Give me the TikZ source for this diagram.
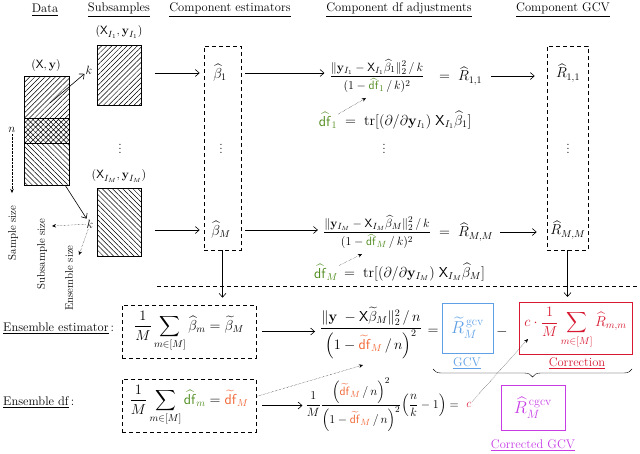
\documentclass[tikz,border=0pt]{standalone}
\usepackage{amsmath,amssymb}
\usetikzlibrary{arrows.meta,patterns.meta,decorations.pathreplacing,calc}
\definecolor{dfgreen}{RGB}{80,140,30}
\definecolor{dforange}{RGB}{240,100,50}
\definecolor{gcvblue}{RGB}{95,160,230}
\definecolor{corrred}{RGB}{215,25,50}
\definecolor{cgcvmag}{RGB}{200,60,230}
\newcommand{\Xs}{\mathsf{X}}
\newcommand{\yb}{\mathbf{y}}
\newcommand{\dfh}{\widehat{\mathsf{df}}}
\newcommand{\dft}{\widetilde{\mathsf{df}}}
\newcommand{\bh}{\widehat{\beta}}
\newcommand{\Rh}{\widehat{R}}
\tikzset{
  lbl/.style={inner sep=1pt},
  arr/.style={semithick,-{Straight Barb[length=4pt,width=7pt]}},
  darr/.style={densely dotted,thin,-{Stealth[length=4pt,width=3.5pt]}},
  dbox/.style={draw,dash pattern=on 4pt off 3pt,semithick,inner sep=2pt},
  hatchA/.style={pattern={Lines[angle=45,distance=3.6pt,line width=0.5pt]}},
  hatchB/.style={pattern={Lines[angle=-45,distance=3.6pt,line width=0.5pt]}},
  hatchC/.style={pattern={Hatch[angle=45,distance=3.6pt,line width=0.5pt]}},
  cbox/.style={draw=#1,line width=0.9pt,inner sep=2pt,font=\fontsize{17.28}{20}\selectfont},
  bigm/.style={inner sep=1pt,font=\fontsize{14.4}{17}\selectfont},
  rotlbl/.style={rotate=90,inner sep=1pt,font=\fontsize{11}{13}\selectfont},
}
\begin{document}
\begin{tikzpicture}[x=1pt,y=-1pt,font=\fontsize{12.5}{15}\selectfont]
\useasboundingbox (0,0) rectangle (640,453);
% headers
\node[lbl] (hData) at (45,10) {\underline{Data}};
\node[lbl] (hSub) at (119,10) {\underline{Subsamples}};
\node[lbl] (hEst) at (230,10) {\underline{Component estimators}};
\node[lbl] (hDf) at (399,10) {\underline{Component df adjustments}};
\node[lbl] (hGcv) at (563,10) {\underline{Component GCV}};
% data block
\node[draw,hatchA,minimum width=45,minimum height=42,inner sep=0pt,anchor=north west] (dA) at (24,76) {};
\node[draw,hatchC,minimum width=45,minimum height=25,inner sep=0pt,anchor=north west] (dB) at (24,118) {};
\node[draw,hatchB,minimum width=45,minimum height=42,inner sep=0pt,anchor=north west] (dC) at (24,143) {};
\node[draw,line width=1.3pt,minimum width=45,minimum height=109,inner sep=0pt,anchor=north west] (data) at (24,76) {};
\node[lbl] (dlab) at (46,65) {$(\Xs,\yb)$};
% subsamples
\node[draw,hatchA,minimum width=44,minimum height=60,inner sep=0pt] (s1) at (119,75) {};
\node[draw,hatchB,minimum width=44,minimum height=68,inner sep=0pt] (sM) at (119,222) {};
\node[lbl] (s1lab) at (119,32) {$(\Xs_{I_1},\yb_{I_1})$};
\node[lbl] (sMlab) at (119,176) {$(\Xs_{I_M},\yb_{I_M})$};
\node[lbl] (sdots) at (120,146) {$\vdots$};
% k, n and size arrows
\node[lbl] (k1) at (89,70) {$k$};
\node[lbl] (kM) at (90,224) {$k$};
\node[lbl] (nn) at (12,130) {$n$};
\coordinate (d1) at (50,103);
\coordinate (d2) at (65,185);
\draw[arr] (d1) -- (k1);
\draw[arr] (d2) -- (kM);
\coordinate (nend) at (12,193);
\coordinate (ssend) at (52,226);
\coordinate (esend) at (79,255);
\draw[darr] (nn) -- (nend);
\draw[darr] (kM) -- (ssend);
\draw[darr] (kM) -- (esend);
\node[rotlbl] (sz1) at (13,233) {Sample size};
\node[rotlbl] (sz2) at (42,254) {Subsample size};
\node[rotlbl] (sz3) at (69,278) {Ensemble size};
% estimators
\node[dbox,minimum width=37,minimum height=204] (est) at (222.5,148) {};
\node[bigm] (b1) at (220,73) {$\bh_1$};
\node[lbl] (bdots) at (221,146) {$\vdots$};
\node[bigm] (bM) at (221,230) {$\bh_M$};
\draw[arr,shorten <=14pt,shorten >=4pt] (s1.east|-b1) -- (est.west|-b1);
\draw[arr,shorten <=14pt,shorten >=4pt] (sM.east|-bM) -- (est.west|-bM);
% component df adjustments
\node[lbl] (f1) at (377,76) {$\dfrac{\|\yb_{I_1}-\Xs_{I_1}\bh_1\|_2^2\,/\,k}{(1-\textcolor{dfgreen}{\dfh_1}\,/\,k)^2}$};
\node[bigm,anchor=west] (e1) at (438,76) {$=\;\Rh_{1,1}$};
\node[bigm] (g1) at (328,120) {$\textcolor{dfgreen}{\dfh_1}$};
\node[bigm,anchor=west] (t1) at (344,120) {$=\;\mathrm{tr}[(\partial/\partial\yb_{I_1})\;\Xs_{I_1}\bh_1]$};
\coordinate (g1t) at (366,98);
\draw[darr] (g1) -- (g1t);
\node[lbl] (fdots) at (384,146) {$\vdots$};
\node[lbl] (fM) at (377,232) {$\dfrac{\|\yb_{I_M}-\Xs_{I_M}\bh_M\|_2^2\,/\,k}{(1-\textcolor{dfgreen}{\dfh_M}\,/\,k)^2}$};
\node[bigm,anchor=west] (eM) at (438,232) {$=\;\Rh_{M,M}$};
\node[bigm] (gM) at (326,272) {$\textcolor{dfgreen}{\dfh_M}$};
\node[bigm,anchor=west] (tM) at (343,272) {$=\;\mathrm{tr}[(\partial/\partial\yb_{I_M})\;\Xs_{I_M}\bh_M]$};
\coordinate (gMt) at (362,254);
\draw[darr] (gM) -- (gMt);
\draw[arr,shorten <=4pt,shorten >=4pt] (b1.east-|est.east) -- (f1.west|-b1.east);
\draw[arr,shorten <=4pt,shorten >=4pt] (bM.east-|est.east) -- (fM.west|-bM.east);
% component GCV
\node[dbox,minimum width=41,minimum height=204] (gcv) at (567.5,148) {};
\node[bigm] (r1) at (568,73) {$\Rh_{1,1}$};
\node[lbl] (rdots) at (568,146) {$\vdots$};
\node[bigm] (rM) at (568,230) {$\Rh_{M,M}$};
\draw[arr,shorten <=8pt,shorten >=12pt] (e1.east) -- (gcv.west|-e1.east);
\draw[arr,shorten <=6pt,shorten >=10pt] (eM.east) -- (gcv.west|-eM.east);
% separator
\coordinate (hl1) at (157,286);
\coordinate (hl2) at (640,286);
\draw[dash pattern=on 4pt off 3pt,semithick] (hl1) -- (hl2);
% ensemble rows
\node[dbox,minimum width=134,minimum height=53,font=\fontsize{14.4}{17}\selectfont] (ee) at (189,331.5) {$\displaystyle\frac{1}{M}\sum_{m\in[M]}\bh_m=\widetilde{\beta}_M$};
\node[dbox,minimum width=134,minimum height=53,font=\fontsize{14.4}{17}\selectfont] (edf) at (189,405.5) {$\displaystyle\frac{1}{M}\sum_{m\in[M]}\textcolor{dfgreen}{\dfh_m}=\textcolor{dforange}{\dft_M}$};
\node[lbl,anchor=west] (eel) at (2,328) {\underline{Ensemble estimator}\,:};
\node[lbl,anchor=west] (edfl) at (2,402) {\underline{Ensemble df}\,:};
\draw[arr,shorten >=7pt] (est.south) -- (est.south|-ee.north);
\draw[arr,shorten >=5pt] (gcv.south) -- (gcv.south|-300,302);
% GCV equation
\node[bigm] (gf) at (371,333) {$\dfrac{\|\yb\;-\Xs\widetilde{\beta}_M\|_2^2\,/\,n}{\Bigl(1-\textcolor{dforange}{\dft_M}\,/\,n\Bigr)^2}$};
\node[bigm] (geq) at (433,332) {$=$};
\node[cbox=gcvblue,minimum width=51,minimum height=50] (gb) at (467.5,328) {$\textcolor{gcvblue}{\widetilde{R}_M^{\,\mathrm{gcv}}}$};
\node[bigm] (gmin) at (502,332) {$-$};
\node[cbox=corrred,minimum width=113,minimum height=52,inner sep=1pt,font=\fontsize{14.4}{17}\selectfont] (cb) at (575.5,328) {$\color{corrred}c\cdot\dfrac{1}{M}\displaystyle\sum_{m\in[M]}\Rh_{m,m}$};
\node[lbl,text=gcvblue] (gl) at (467,363) {\underline{GCV}};
\node[lbl,text=corrred] (cl) at (577,363) {\underline{Correction}};
\coordinate (brl) at (433,369);
\coordinate (brr) at (632,369);
\draw[decorate,decoration={brace,amplitude=8pt,mirror}] (brl) -- (brr);
\node[cbox=cgcvmag,minimum width=64,minimum height=45] (cg) at (533,407.5) {$\textcolor{cgcvmag}{\Rh_M^{\,\mathrm{cgcv}}}$};
\node[lbl,text=cgcvmag] (cgl) at (533,445) {\underline{Corrected GCV}};
% c equation
\node[lbl,anchor=east] (ceq) at (460,405) {$\dfrac{1}{M}\dfrac{\Bigl(\textcolor{dforange}{\dft_M}\,/\,n\Bigr)^2}{\Bigl(1-\textcolor{dforange}{\dft_M}\,/\,n\Bigr)^2}\Bigl(\dfrac{n}{k}-1\Bigr)=$};
\node[lbl,text=corrred] (cc) at (469,405) {$c$};
\draw[arr,shorten <=6pt,shorten >=4pt] (ee.east) -- (ee.east-|gf.west);
\draw[arr,shorten <=6pt,shorten >=2pt] (edf.east) -- (edf.east-|ceq.west);
\coordinate (gdt) at (363,365);
\draw[darr] ([yshift=9pt]edf.east) -- (gdt);
\coordinate (ct) at (528,339);
\draw[darr] (cc) -- (ct);
\end{tikzpicture}
\end{document}
